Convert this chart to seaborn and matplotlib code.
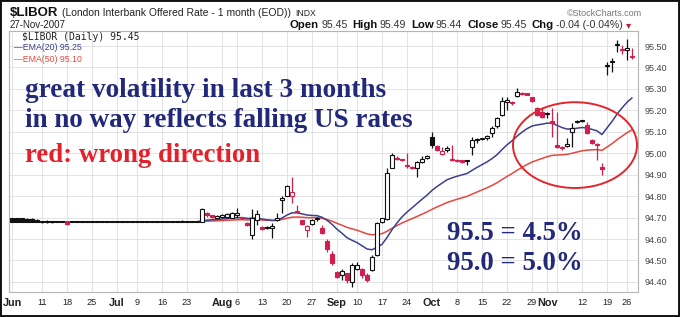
import numpy as np
import pandas as pd
import matplotlib
matplotlib.use("Agg")
import matplotlib.pyplot as plt
from matplotlib.patches import Ellipse, Rectangle
import seaborn as sns

# ---------------- data ----------------
holidays = ["2007-07-04", "2007-09-03", "2007-11-22"]
dates = pd.bdate_range("2007-06-01", "2007-11-27")
dates = dates[~dates.isin(pd.to_datetime(holidays))]

opens = [
    # Jun
    94.70, 94.70, 94.70, 94.695, 94.695, 94.69, 94.68, 94.685, 94.685, 94.68, 94.68, 94.68,
    94.68, 94.68, 94.68, 94.68, 94.68, 94.68, 94.68, 94.68, 94.68,
    # Jul
    94.68, 94.68, 94.68, 94.68, 94.68, 94.68, 94.68, 94.68, 94.68, 94.68, 94.68, 94.68, 94.68,
    94.68, 94.68, 94.68, 94.68, 94.68, 94.72, 94.71, 94.70,
    # Aug
    94.705, 94.705, 94.70, 94.71, 94.70, 94.675, 94.62, 94.69, 94.655, 94.65, 94.65, 94.69,
    94.78, 94.80, 94.80, 94.73, 94.69, 94.64, 94.67, 94.695, 94.65, 94.59, 94.53,
    # Sep
    94.445, 94.43, 94.44, 94.40, 94.46, 94.46, 94.43, 94.455, 94.525, 94.68, 94.695, 94.93,
    94.98, 94.975, 94.945, 94.935, 94.93, 94.96, 94.98,
    # Oct
    95.075, 95.035, 94.998, 95.015, 94.975, 94.97, 94.97, 94.965, 95.03, 95.06, 95.065, 95.07,
    95.095, 95.125, 95.18, 95.24, 95.24, 95.265, 95.28, 95.28, 95.26, 95.21, 95.19,
    # Nov
    95.185, 95.15, 95.04, 95.03, 95.035, 95.10, 95.145, 95.15, 95.13, 95.06, 95.045, 94.935,
    95.405, 95.425, 95.505, 95.48, 95.48, 95.45,
]
highs = [
    94.70, 94.70, 94.70, 94.70, 94.70, 94.695, 94.68, 94.69, 94.685, 94.68, 94.68, 94.68,
    94.68, 94.68, 94.68, 94.68, 94.68, 94.68, 94.68, 94.68, 94.68,
    94.68, 94.68, 94.68, 94.68, 94.68, 94.68, 94.68, 94.68, 94.68, 94.68, 94.68, 94.68, 94.68,
    94.69, 94.68, 94.68, 94.68, 94.745, 94.725, 94.712, 94.712,
    94.715, 94.72, 94.725, 94.745, 94.705, 94.68, 94.74, 94.735, 94.66, 94.66, 94.675, 94.72,
    94.80, 94.85, 94.89, 94.76, 94.69, 94.665, 94.695, 94.705, 94.665, 94.60, 94.545,
    94.45, 94.46, 94.44, 94.49, 94.495, 94.465, 94.44, 94.525, 94.68, 94.70, 94.93, 95.00,
    94.985, 94.975, 95.00, 94.94, 94.965, 94.985, 94.99,
    95.10, 95.04, 95.03, 95.035, 95.04, 94.975, 94.97, 94.97, 95.075, 95.07, 95.07, 95.085,
    95.125, 95.17, 95.262, 95.26, 95.245, 95.305, 95.285, 95.28, 95.262, 95.215, 95.215,
    95.19, 95.21, 95.19, 95.035, 95.07, 95.14, 95.155, 95.155, 95.145, 95.065, 95.05, 94.955,
    95.425, 95.445, 95.53, 95.505, 95.535, 95.49,
]
lows = [
    94.68, 94.68, 94.68, 94.68, 94.68, 94.68, 94.675, 94.675, 94.675, 94.68, 94.68, 94.665,
    94.68, 94.68, 94.68, 94.68, 94.68, 94.68, 94.68, 94.68, 94.68,
    94.68, 94.68, 94.68, 94.68, 94.68, 94.68, 94.68, 94.68, 94.68, 94.68, 94.68, 94.68, 94.68,
    94.68, 94.68, 94.68, 94.68, 94.68, 94.705, 94.70, 94.70,
    94.70, 94.70, 94.70, 94.70, 94.695, 94.66, 94.60, 94.665, 94.64, 94.645, 94.605, 94.685,
    94.72, 94.80, 94.77, 94.72, 94.665, 94.61, 94.665, 94.685, 94.625, 94.54, 94.48,
    94.42, 94.41, 94.395, 94.375, 94.455, 94.42, 94.40, 94.45, 94.52, 94.675, 94.69, 94.93,
    94.97, 94.965, 94.93, 94.925, 94.89, 94.955, 94.975,
    95.025, 95.01, 94.99, 95.005, 94.965, 94.96, 94.955, 94.945, 94.99, 95.05, 95.06, 95.06,
    95.075, 95.12, 95.175, 95.20, 95.225, 95.26, 95.27, 95.27, 95.24, 95.175, 95.165,
    95.165, 95.075, 95.025, 95.015, 95.03, 95.03, 95.14, 95.145, 95.09, 95.045, 94.97, 94.90,
    95.365, 95.38, 95.47, 95.465, 95.435, 95.44,
]
closes = [
    94.68, 94.68, 94.68, 94.68, 94.68, 94.68, 94.68, 94.68, 94.68, 94.68, 94.68, 94.67,
    94.68, 94.68, 94.68, 94.68, 94.68, 94.68, 94.68, 94.68, 94.68,
    94.68, 94.68, 94.68, 94.68, 94.68, 94.68, 94.68, 94.68, 94.68, 94.68, 94.68, 94.68, 94.68,
    94.68, 94.68, 94.68, 94.68, 94.74, 94.71, 94.705, 94.708,
    94.71, 94.715, 94.72, 94.72, 94.70, 94.665, 94.70, 94.715, 94.645, 94.655, 94.66, 94.70,
    94.79, 94.845, 94.82, 94.725, 94.67, 94.66, 94.69, 94.70, 94.63, 94.555, 94.49,
    94.425, 94.45, 94.41, 94.48, 94.48, 94.43, 94.41, 94.515, 94.675, 94.70, 94.91, 94.99,
    94.975, 94.97, 94.94, 94.93, 94.96, 94.975, 94.985,
    95.04, 95.015, 95.01, 95.025, 94.97, 94.965, 94.96, 94.965, 95.06, 95.065, 95.07, 95.08,
    95.12, 95.165, 95.245, 95.25, 95.235, 95.285, 95.275, 95.27, 95.245, 95.18, 95.17,
    95.185, 95.14, 95.03, 95.025, 95.045, 95.12, 95.15, 95.15, 95.095, 95.05, 95.04, 94.925,
    95.41, 95.43, 95.51, 95.485, 95.49, 95.45,
]

tick_dates = ["2007-06-01", "2007-06-11", "2007-06-18", "2007-06-25", "2007-07-02", "2007-07-09",
              "2007-07-16", "2007-07-23", "2007-08-01", "2007-08-06", "2007-08-13", "2007-08-20",
              "2007-08-27", "2007-09-04", "2007-09-10", "2007-09-17", "2007-09-24", "2007-10-01",
              "2007-10-08", "2007-10-15", "2007-10-22", "2007-10-29", "2007-11-01", "2007-11-05",
              "2007-11-12", "2007-11-19", "2007-11-26"]
tick_labels = ["Jun", "11", "18", "25", "Jul", "9", "16", "23", "Aug", "6", "13", "20", "27",
               "Sep", "10", "17", "24", "Oct", "8", "15", "22", "29", "Nov", "", "12", "19", "26"]
month_names = ["Jun", "Jul", "Aug", "Sep", "Oct", "Nov"]
y_ticks = [94.4, 94.5, 94.6, 94.7, 94.8, 94.9, 95.0, 95.1, 95.2, 95.3, 95.4, 95.5]

# ---------------- styling ----------------
sns.set_theme(style="white")
plt.rcParams["font.family"] = ["Liberation Sans", "DejaVu Sans"]

BLACK = "#111111"
CRED = "#d21f4f"
NAVY_LINE = "#3c3f8e"
RED_LINE = "#e6473f"
NAVY_TXT = "#22287a"
RED_TXT = "#e3212b"
W, H = 680, 317

df = pd.DataFrame({"date": dates, "open": opens, "high": highs, "low": lows, "close": closes})
df["pos"] = np.arange(len(df))
df["ema20"] = df["close"].ewm(span=20, adjust=False).mean()
df["ema50"] = df["close"].ewm(span=50, adjust=False).mean()
prev = df["close"].shift(1).fillna(df["close"])
df["color"] = np.where(df["close"] < prev, CRED, BLACK)
df["filled"] = df["close"] < df["open"]

fig = plt.figure(figsize=(W / 100, H / 100), dpi=100)
fig.patch.set_facecolor("white")
ax = fig.add_axes([9 / W, (H - 292) / H, 629 / W, 261 / H])
ax.set_facecolor("white")

# EMAs
sns.lineplot(data=df, x="pos", y="ema50", color=RED_LINE, lw=1.1, ax=ax, zorder=2)
sns.lineplot(data=df, x="pos", y="ema20", color=NAVY_LINE, lw=1.1, ax=ax, zorder=2)

# candles
ax.vlines(df["pos"], df["low"], df["high"], colors=df["color"], lw=0.9, zorder=3)
body_bottom = np.minimum(df["open"], df["close"])
body_h = np.maximum((df["close"] - df["open"]).abs(), 0.004)
face = np.where(df["filled"], df["color"], "white")
ax.bar(df["pos"], body_h, bottom=body_bottom, width=0.7, color=face,
       edgecolor=df["color"], linewidth=0.8, zorder=4)

# axes
ax.set_xlim(-0.6, 125.2)
ax.set_ylim(94.353, 95.570)
positions = [int(df.index[df["date"] == pd.Timestamp(d)][0]) for d in tick_dates]
ax.set_xticks(positions)
ax.set_xticklabels(tick_labels)
for lab in ax.get_xticklabels():
    if lab.get_text() in month_names:
        lab.set_fontweight("bold")
        lab.set_fontsize(7.8)
    else:
        lab.set_fontsize(6.6)
    lab.set_color("#222222")
ax.set_yticks(y_ticks)
ax.set_yticklabels([f"{v:.2f}" for v in y_ticks], fontsize=6.5, color="#444444")
ax.yaxis.tick_right()
ax.tick_params(axis="both", length=0)
ax.tick_params(axis="x", pad=4)
ax.tick_params(axis="y", pad=5)
ax.grid(True, color="#dedede", lw=0.6)
ax.set_axisbelow(True)
ax.set_xlabel("")
ax.set_ylabel("")
for s in ax.spines.values():
    s.set_color("#b5b5b5")
    s.set_linewidth(0.8)

# ellipse
ax.add_patch(Ellipse((112.6, 95.038), 24.8, 0.40, fill=False, edgecolor="#e2262c", lw=1.4, zorder=5))

# legend inside plot
def fy(y):
    return 1 - y / H

fig.text(22 / W, fy(37), "$LIBOR (Daily) 95.45", fontsize=7, family="DejaVu Sans Mono",
         color="#222222", va="center")
fig.text(14 / W, fy(48), "\u2014EMA(20) 95.25", fontsize=6.3, color=NAVY_LINE, va="center")
fig.text(14 / W, fy(59), "\u2014EMA(50) 95.10", fontsize=6.3, color=RED_LINE, va="center")

# annotations
serif = ["Liberation Serif", "DejaVu Serif"]
fig.text(25 / W, fy(97), "great volatility in last 3 months", fontsize=19.6, family=serif,
         fontweight="bold", color=NAVY_TXT, va="baseline")
fig.text(25 / W, fy(127), "in no way reflects falling US rates", fontsize=19.5, family=serif,
         fontweight="bold", color=NAVY_TXT, va="baseline")
fig.text(25 / W, fy(162), "red: wrong direction", fontsize=19.3, family=serif,
         fontweight="bold", color=RED_TXT, va="baseline")
fig.text(447 / W, fy(240), "95.5 = 4.5%", fontsize=19.3, family=serif,
         fontweight="bold", color=NAVY_TXT, va="baseline")
fig.text(447 / W, fy(270), "95.0 = 5.0%", fontsize=19.3, family=serif,
         fontweight="bold", color=NAVY_TXT, va="baseline")

# header
renderer = fig.canvas.get_renderer()

def chain(pieces, x0, y):
    x = x0
    for txt, weight, color, size, gap in pieces:
        t = fig.text(x / W, fy(y), txt, fontsize=size, fontweight=weight, color=color,
                     va="baseline", ha="left")
        x += t.get_window_extent(renderer=renderer).width + gap

chain([("$LIBOR", "bold", "#111111", 9.5, 4),
       ("(London Interbank Offered Rate - 1 month (EOD))", "normal", "#222222", 7.5, 4),
       ("INDX", "normal", "#222222", 6.2, 0)], 10, 16)
fig.text(10 / W, fy(28), "27-Nov-2007", fontsize=7, color="#222222", va="baseline")
chain([("Open", "bold", "#111111", 8.2, 2), ("95.45", "normal", "#333333", 7.6, 5),
       ("High", "bold", "#111111", 8.2, 2), ("95.49", "normal", "#333333", 7.6, 5),
       ("Low", "bold", "#111111", 8.2, 2), ("95.44", "normal", "#333333", 7.6, 5),
       ("Close", "bold", "#111111", 8.2, 2), ("95.45", "normal", "#333333", 7.6, 5),
       ("Chg", "bold", "#111111", 8.2, 2), ("-0.04 (-0.04%)", "normal", "#333333", 7.6, 3),
       ("\u25BE", "normal", "#c0203a", 7.5, 0)], 290, 28)
fig.text(642 / W, fy(16), "\u00A9StockCharts.com", fontsize=6.5, color="#777777",
         va="baseline", ha="right")

fig.add_artist(Rectangle((0, 0), 1, 1, transform=fig.transFigure, fill=False,
                         edgecolor="#111111", lw=2.8))

fig.savefig("out.png", dpi=100)
